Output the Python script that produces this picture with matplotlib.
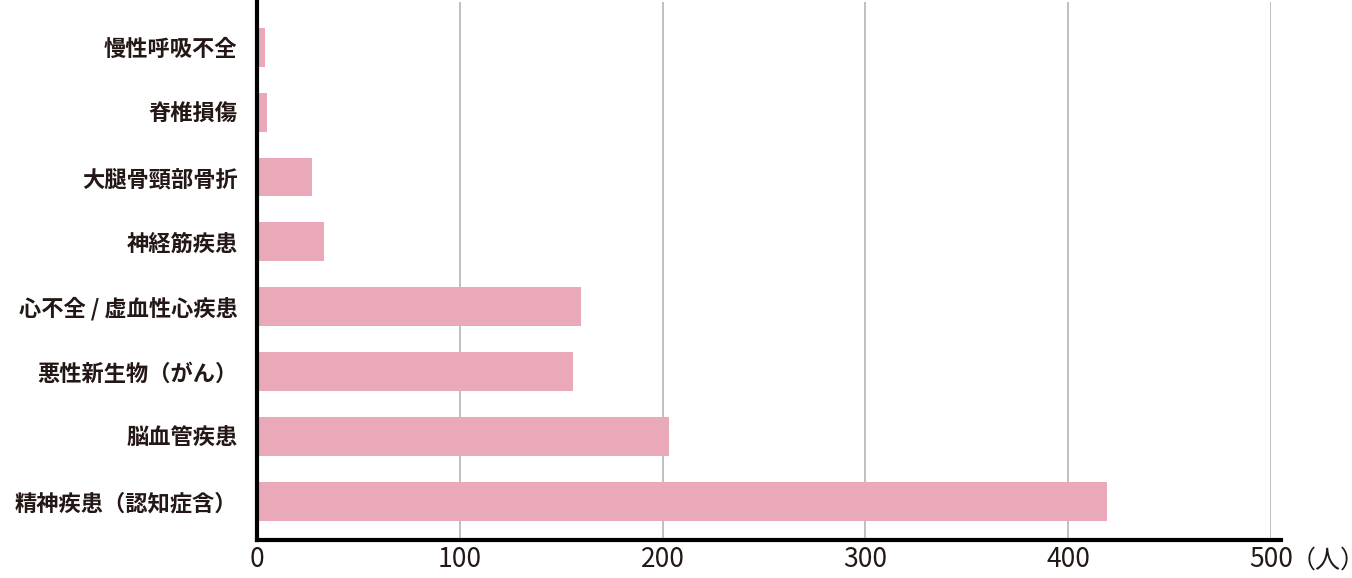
import matplotlib
matplotlib.use("Agg")
import matplotlib.pyplot as plt

plt.rcParams['font.family'] = ['Noto Sans CJK JP', 'DejaVu Sans']

# top to bottom
categories = ["慢性呼吸不全", "脊椎損傷", "大腿骨頸部骨折", "神経筋疾患",
              "心不全 / 虚血性心疾患", "悪性新生物（がん）", "脳血管疾患", "精神疾患（認知症含）"]
values = [4, 5, 27, 33, 160, 156, 203, 419]
xticks = [0, 100, 200, 300, 400, 500]

fig = plt.figure(figsize=(13.52, 5.78), dpi=100)
ax = fig.add_axes([257 / 1352, 1 - 540 / 578, (1271 - 257) / 1352, (540 - 2) / 578])

ypos = list(range(len(categories)))[::-1]
ax.barh(ypos, values, height=0.6, color="#e9a9b9", zorder=2)
ax.set_ylim(-0.6, len(categories) - 0.3)
ax.set_xlim(0, 500)

ax.set_yticks(ypos)
ax.set_yticklabels(categories, fontsize=16, fontweight='bold', color="#231815")
ax.set_xticks(xticks)
ax.set_xticklabels([str(t) for t in xticks], fontsize=19, color="#231815")
ax.tick_params(length=0, pad=14)
ax.tick_params(axis='x', pad=4)
ax.xaxis.grid(True, color="#b5b5b5", linewidth=1.2, zorder=0)

for s in ["top", "right"]:
    ax.spines[s].set_visible(False)
ax.spines["left"].set_linewidth(3)
ax.spines["bottom"].set_linewidth(3)
ax.spines["bottom"].set_bounds(0, 505)

ax.annotate("（人）", xy=(1.0, 0), xycoords="axes fraction", xytext=(14, -15),
            textcoords="offset points", fontsize=18, va="center", ha="left",
            color="#231815", annotation_clip=False)

fig.savefig("out.png", dpi=100)
